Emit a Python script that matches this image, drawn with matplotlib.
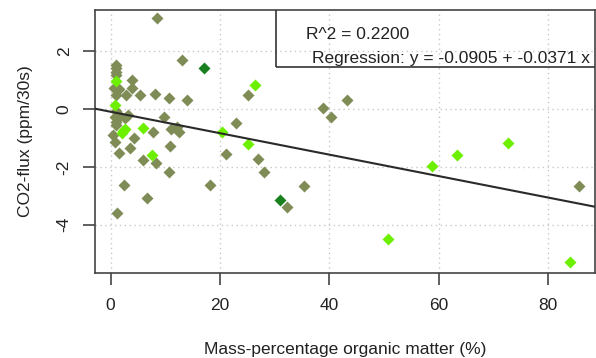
import numpy as np
import matplotlib.pyplot as plt
from matplotlib.patches import Rectangle

plt.rcParams['font.family'] = ['Liberation Sans', 'DejaVu Sans']

# organic matter (%) and CO2 flux, split by point colour
om_olive = [8.4, 13.1, 1.0, 1.0, 0.9, 1.0, 3.9, 3.9, 0.64, 1.6, 2.8, 1.0, 5.3, 8.1,
            10.6, 14.0, 25.2, 38.8, 40.3, 43.2, 1.0, 1.7, 2.6, 3.2, 0.8, 1.0, 0.9,
            9.8, 7.7, 11.1, 12.2, 12.6, 0.4, 0.8, 4.2, 3.6, 1.6, 6.0, 8.3,
            10.9, 22.9, 21.2, 26.9, 28.0, 10.6, 2.5, 18.1, 35.4, 6.7, 32.3, 1.1, 85.6]
flux_olive = [3.14, 1.70, 1.52, 1.41, 1.29, 1.18, 1.0, 0.74, 0.74, 0.69, 0.48, 0.48, 0.48, 0.54,
              0.37, 0.33, 0.50, 0.05, -0.28, 0.32, -0.05, -0.24, -0.30, -0.20, -0.27, -0.44, -0.55,
              -0.27, -0.78, -0.69, -0.61, -0.78, -0.90, -1.13, -1.01, -1.34, -1.53, -1.76, -1.88,
              -1.28, -0.47, -1.56, -1.71, -2.17, -2.17, -2.61, -2.61, -2.66, -3.09, -3.38, -3.59, -2.66]

om_lime = [1.0, 26.4, 0.82, 2.3, 2.0, 2.65, 5.9, 20.4, 25.2, 7.5, 58.7, 63.3, 72.6, 50.7, 84.1]
flux_lime = [0.97, 0.82, 0.14, -0.76, -0.82, -0.69, -0.65, -0.78, -1.21, -1.59, -1.97, -1.60,
             -1.17, -4.51, -5.29]

om_dark = [17.1, 31.0]
flux_dark = [1.41, -3.13]

# regression coefficients
intercept = -0.0905
slope = -0.0371
r2 = 0.2200

xticks = [0, 20, 40, 60, 80]
yticks = [-4, -2, 0, 2]

fs = 12.5

fig = plt.figure(figsize=(5.96, 3.58), dpi=100)
ax = fig.add_axes([95/596, 85/358, 500/596, 263/358])

ax.set_xlim(-2.85, 88.6)
ax.set_ylim(-5.67, 3.43)

# dotted grid
for xv in xticks:
    ax.axvline(xv, color='#c8c8c8', ls=(0, (1, 2.5)), lw=1, zorder=0)
for yv in yticks:
    ax.axhline(yv, color='#c8c8c8', ls=(0, (1, 2.5)), lw=1, zorder=0)

ax.plot(om_olive, flux_olive, 'D', color='#7f8c56', ms=6, mec='none', zorder=2)
ax.plot(om_lime, flux_lime, 'D', color='#6cf000', ms=6, mec='none', zorder=3)
ax.plot(om_dark, flux_dark, 'D', color='#18801c', ms=6, mec='none', zorder=3)

xl = np.array(ax.get_xlim())
ax.plot(xl, intercept + slope * xl, color='#2a2a2a', lw=1.5, zorder=4)

ax.set_xticks(xticks)
ax.set_yticks(yticks)
ax.set_yticklabels([str(v) for v in yticks], rotation=90, va='center')
ax.tick_params(axis='both', direction='out', length=8.4, width=1.2, color='#444444',
               labelsize=fs, labelcolor='#222222')
ax.tick_params(axis='x', pad=9.5)
ax.tick_params(axis='y', pad=8.4)
for s in ax.spines.values():
    s.set_color('#444444')
    s.set_linewidth(1.2)

ax.set_xlabel('Mass-percentage organic matter (%)', fontsize=fs, color='#222222', labelpad=21)
ax.set_ylabel('CO2-flux (ppm/30s)', fontsize=fs, color='#222222', labelpad=17)

# legend-style box in the top right
ax.add_patch(Rectangle((0.361, 0.784), 0.7, 0.3, transform=ax.transAxes, fill=False,
                       ec='#333333', lw=1.2, zorder=5, clip_on=True))
ax.text(0.423, 0.905, f'R^2 = {r2:.4f}', transform=ax.transAxes, fontsize=fs,
        color='#222222', va='center', ha='left', zorder=6)
ax.text(0.433, 0.816, f'Regression: y = {intercept} + {slope} x', transform=ax.transAxes,
        fontsize=fs, color='#222222', va='center', ha='left', zorder=6)

fig.savefig('out.png', dpi=100)
